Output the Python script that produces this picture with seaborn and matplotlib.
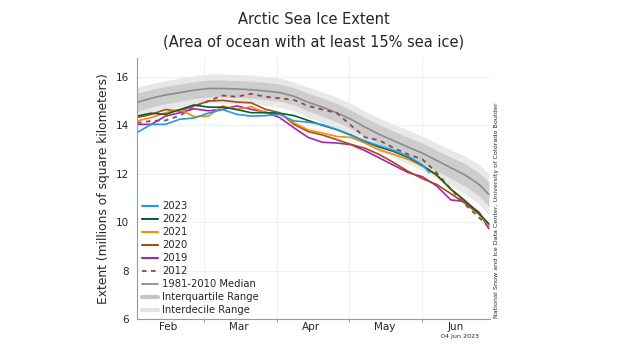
import matplotlib
matplotlib.use("Agg")
import matplotlib.pyplot as plt
import seaborn as sns
import pandas as pd
from matplotlib.lines import Line2D

# days counted from 1 February
days = [0, 6, 12, 18, 24, 30, 36, 42, 48, 54, 60, 66, 72, 78, 84, 90, 96, 102, 108, 114, 120, 126, 132, 138, 144, 148]
days_2023 = [0, 6, 12, 18, 24, 30, 36, 42, 48, 54, 60, 66, 72, 78, 84, 90, 96, 102, 108, 114, 120, 123]

ext_2023 = [13.70, 14.04, 14.04, 14.25, 14.30, 14.50, 14.65, 14.45, 14.38, 14.40, 14.45, 14.18, 14.13, 14.03, 13.83, 13.58, 13.35, 13.15, 12.96, 12.72, 12.37, 12.05]
ext_2022 = [14.38, 14.50, 14.45, 14.65, 14.84, 14.75, 14.75, 14.65, 14.52, 14.52, 14.50, 14.40, 14.20, 14.00, 13.82, 13.60, 13.33, 13.10, 12.92, 12.68, 12.35, 11.95, 11.37, 10.88, 10.35, 9.93]
ext_2021 = [14.18, 14.32, 14.52, 14.65, 14.36, 14.38, 14.80, 14.66, 14.77, 14.52, 14.50, 14.10, 13.81, 13.68, 13.54, 13.50, 13.26, 12.98, 12.80, 12.60, 12.32, 11.95, 11.36, 10.88, 10.35, 9.86]
ext_2020 = [14.32, 14.45, 14.65, 14.59, 14.80, 15.00, 15.03, 14.96, 14.93, 14.66, 14.52, 14.04, 13.74, 13.60, 13.41, 13.21, 13.05, 12.79, 12.46, 12.10, 11.80, 11.56, 11.18, 10.78, 10.32, 9.86]
ext_2019 = [14.04, 14.04, 14.38, 14.52, 14.68, 14.60, 14.66, 14.80, 14.66, 14.55, 14.32, 13.90, 13.50, 13.30, 13.27, 13.20, 12.95, 12.65, 12.35, 12.05, 11.88, 11.50, 10.92, 10.85, 10.40, 9.73]
ext_2012 = [14.10, 14.18, 14.20, 14.40, 14.75, 15.00, 15.23, 15.18, 15.30, 15.18, 15.12, 15.05, 14.80, 14.65, 14.51, 14.00, 13.50, 13.38, 13.06, 12.80, 12.60, 12.05, 11.37, 10.73, 10.18, 9.80]

median = [14.95, 15.12, 15.25, 15.35, 15.45, 15.52, 15.52, 15.50, 15.47, 15.42, 15.35, 15.20, 14.95, 14.75, 14.52, 14.25, 13.92, 13.62, 13.36, 13.10, 12.85, 12.55, 12.25, 11.95, 11.55, 11.15]
iq_hi = [15.32, 15.48, 15.61, 15.70, 15.80, 15.87, 15.87, 15.85, 15.82, 15.77, 15.70, 15.56, 15.32, 15.13, 14.90, 14.63, 14.32, 14.02, 13.76, 13.50, 13.27, 12.97, 12.69, 12.41, 12.03, 11.65]
iq_lo = [14.58, 14.76, 14.89, 15.00, 15.10, 15.17, 15.17, 15.15, 15.12, 15.07, 15.00, 14.84, 14.58, 14.37, 14.14, 13.87, 13.52, 13.22, 12.96, 12.70, 12.43, 12.13, 11.81, 11.49, 11.07, 10.65]
id_hi = [15.57, 15.72, 15.85, 15.95, 16.05, 16.12, 16.12, 16.10, 16.07, 16.02, 15.95, 15.80, 15.57, 15.38, 15.16, 14.90, 14.58, 14.29, 14.04, 13.80, 13.55, 13.27, 12.99, 12.73, 12.37, 12.01]
id_lo = [14.33, 14.52, 14.65, 14.75, 14.85, 14.92, 14.92, 14.90, 14.87, 14.82, 14.75, 14.60, 14.33, 14.12, 13.88, 13.60, 13.26, 12.95, 12.68, 12.40, 12.15, 11.83, 11.51, 11.17, 10.73, 10.29]

month_edges = [28, 59, 89, 120]
month_mid = [13, 43, 73, 104, 134]
month_names = ["Feb", "Mar", "Apr", "May", "Jun"]

years = ["2023", "2022", "2021", "2020", "2019"]
year_colors = ["#1e9be8", "#0d5e2a", "#ff8a00", "#a34d1c", "#a523b4"]
color_2012 = "#8e4b3d"

sns.set_style("white")
plt.rcParams['font.family'] = ['DejaVu Sans']

fig = plt.figure(figsize=(6.32, 3.55), dpi=100)
ax = fig.add_axes([0.2168, 0.1014, 0.5585, 0.7366])

ax.fill_between(days, id_lo, id_hi, color="#e8e8e8", lw=0)
ax.fill_between(days, iq_lo, iq_hi, color="#cdcdcd", lw=0)
sns.lineplot(x=days, y=median, color="#8c8c8c", lw=1.2, ax=ax)

sns.lineplot(x=days, y=ext_2012, color=color_2012, lw=1.3, linestyle=(0, (2.5, 2.5)), ax=ax)
series = [ext_2019, ext_2020, ext_2021, ext_2022]
for vals, c in zip(series, year_colors[:0:-1]):
    sns.lineplot(x=days, y=vals, color=c, lw=1.2, ax=ax)
sns.lineplot(x=days_2023, y=ext_2023, color=year_colors[0], lw=1.2, ax=ax)

ax.set_xlim(0, 148.5)
ax.set_ylim(6, 16.8)
ax.set_yticks([6, 8, 10, 12, 14, 16])
ax.set_xticks(month_edges)
ax.set_xticklabels([])
ax.set_xticks(month_mid, minor=True)
ax.set_xticklabels(month_names, minor=True)
ax.tick_params(axis="x", which="minor", length=0, labelsize=7.5, pad=2)
ax.tick_params(axis="x", which="major", length=2.5, color="#999999", bottom=True)
ax.tick_params(axis="y", length=0, labelsize=7.5, pad=6)
ax.grid(True, which="major", color="#f0f0f0", lw=0.8)

for s in ["top", "right"]:
    ax.spines[s].set_visible(False)
for s in ["left", "bottom"]:
    ax.spines[s].set_color("#999999")
    ax.spines[s].set_linewidth(0.8)

ax.set_ylabel("Extent (millions of square kilometers)", fontsize=8.8, labelpad=4)

handles = [Line2D([0], [0], color=c, lw=1.5) for c in year_colors]
handles.append(Line2D([0], [0], color=color_2012, lw=1.3, linestyle=(0, (2.5, 2.5))))
handles.append(Line2D([0], [0], color="#8c8c8c", lw=1.3))
handles.append(Line2D([0], [0], color="#c4c4c4", lw=3))
handles.append(Line2D([0], [0], color="#e4e4e4", lw=3))
labels = years + ["2012", "1981-2010 Median", "Interquartile Range", "Interdecile Range"]
ax.legend(handles, labels, loc="lower left", bbox_to_anchor=(-0.01, -0.02), frameon=False,
          fontsize=7.2, handlelength=1.6, handletextpad=0.4, labelspacing=0.3)

fig.text(0.496, 0.944, "Arctic Sea Ice Extent", ha="center", va="center", fontsize=10.5)
fig.text(0.496, 0.882, "(Area of ocean with at least 15% sea ice)", ha="center", va="center", fontsize=10.5)
fig.text(0.786, 0.105, "National Snow and Ice Data Center, University of Colorado Boulder",
         rotation=90, ha="center", va="bottom", fontsize=4.6)
fig.text(0.728, 0.052, "04 Jun 2023", ha="center", va="center", fontsize=4.6)

fig.savefig("out.png", dpi=100)
